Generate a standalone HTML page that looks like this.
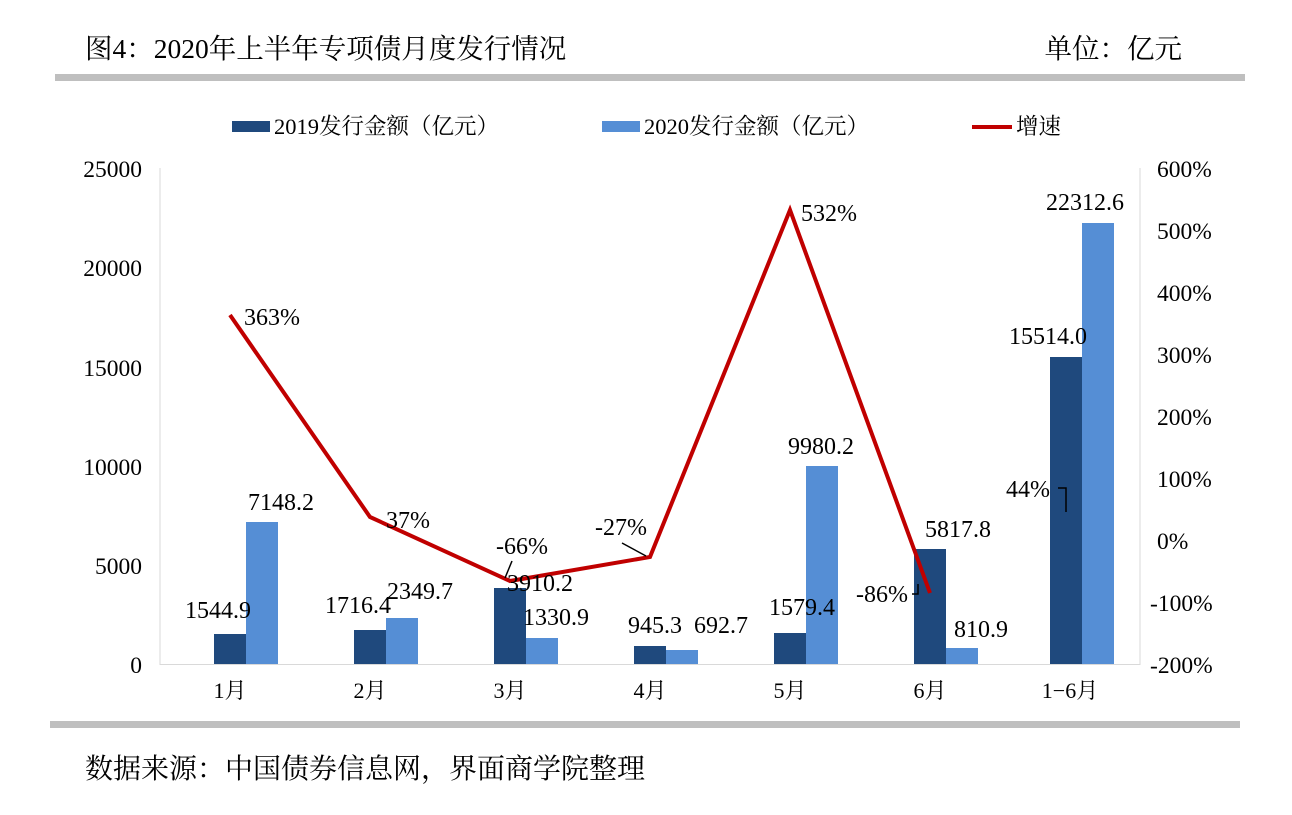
<!DOCTYPE html>
<html><head><meta charset="utf-8"><style>
body{margin:0;background:#fff;}
svg text{font-family:"Liberation Serif","Noto Serif CJK SC",serif;fill:#000;}
</style></head><body>
<svg width="1292" height="810" xmlns="http://www.w3.org/2000/svg">
<text x="85" y="58" font-size="27.5">图4：2020年上半年专项债月度发行情况</text>
<text x="1182" y="58" font-size="27.5" text-anchor="end">单位：亿元</text>
<rect x="55" y="74" width="1190" height="7" fill="#bfbfbf"/>
<rect x="50" y="721" width="1190" height="7" fill="#bfbfbf"/>
<text x="85" y="778" font-size="28">数据来源：中国债券信息网，界面商学院整理</text>
<!-- legend -->
<rect x="232" y="121" width="38" height="11" fill="#1f497d"/>
<text x="274" y="134" font-size="22.5">2019发行金额（亿元）</text>
<rect x="602" y="121" width="38" height="11" fill="#558ed5"/>
<text x="644" y="134" font-size="22.5">2020发行金额（亿元）</text>
<line x1="972" y1="127" x2="1012" y2="127" stroke="#c00000" stroke-width="4"/>
<text x="1016" y="134" font-size="22.5">增速</text>
<!-- axes -->
<line x1="160" y1="168" x2="160" y2="665" stroke="#d9d9d9"/>
<line x1="1140" y1="168" x2="1140" y2="665" stroke="#d9d9d9"/>
<line x1="160" y1="664.5" x2="1140" y2="664.5" stroke="#d9d9d9"/>
<g font-size="23.5" text-anchor="end">
<text x="142" y="177">25000</text><text x="142" y="276">20000</text><text x="142" y="376">15000</text>
<text x="142" y="475">10000</text><text x="142" y="574">5000</text><text x="142" y="673">0</text>
</g>
<g font-size="23.5" text-anchor="start">
<text x="1157" y="177">600%</text><text x="1157" y="239">500%</text><text x="1157" y="301">400%</text>
<text x="1157" y="363">300%</text><text x="1157" y="425">200%</text><text x="1157" y="487">100%</text>
<text x="1157" y="549">0%</text><text x="1150" y="611">-100%</text><text x="1150" y="673">-200%</text>
</g>
<g font-size="22" text-anchor="middle">
<text x="230" y="698">1月</text><text x="370" y="698">2月</text><text x="510" y="698">3月</text>
<text x="650" y="698">4月</text><text x="790" y="698">5月</text><text x="930" y="698">6月</text><text x="1070" y="698">1−6月</text>
</g>
<!-- bars -->
<g fill="#1f497d">
<rect x="214" y="634" width="32" height="30"/>
<rect x="354" y="630" width="32" height="34"/>
<rect x="494" y="588" width="32" height="76"/>
<rect x="634" y="646" width="32" height="18"/>
<rect x="774" y="633" width="32" height="31"/>
<rect x="914" y="549" width="32" height="115"/>
<rect x="1050" y="357" width="32" height="307"/>
</g>
<g fill="#558ed5">
<rect x="246" y="522" width="32" height="142"/>
<rect x="386" y="618" width="32" height="46"/>
<rect x="526" y="638" width="32" height="26"/>
<rect x="666" y="650" width="32" height="14"/>
<rect x="806" y="466" width="32" height="198"/>
<rect x="946" y="648" width="32" height="16"/>
<rect x="1082" y="223" width="32" height="441"/>
</g>
<polyline points="230,315 370,517 510,581 650,557 790,210 930,593" fill="none" stroke="#c00000" stroke-width="4"/>
<g stroke="#000" stroke-width="1.5" fill="none">
<line x1="505" y1="578" x2="512" y2="561"/>
<line x1="622" y1="543" x2="646" y2="556"/>
<polyline points="912,594 918,594 918,584"/>
<polyline points="1058,488 1066,488 1066,512"/>
</g>
<g font-size="24" text-anchor="middle">
<text x="218" y="618">1544.9</text><text x="281" y="510">7148.2</text>
<text x="358" y="613">1716.4</text><text x="420" y="599">2349.7</text>
<text x="540" y="591">3910.2</text><text x="556" y="625">1330.9</text>
<text x="655" y="633">945.3</text><text x="721" y="633">692.7</text>
<text x="802" y="615">1579.4</text><text x="821" y="454">9980.2</text>
<text x="958" y="537">5817.8</text><text x="981" y="637">810.9</text>
<text x="1048" y="344">15514.0</text><text x="1085" y="210">22312.6</text>
<text x="272" y="325">363%</text><text x="408" y="528">37%</text>
<text x="522" y="554">-66%</text><text x="621" y="535">-27%</text>
<text x="829" y="221">532%</text><text x="882" y="602">-86%</text>
<text x="1028" y="497">44%</text>
</g>
</svg>
</body></html>
